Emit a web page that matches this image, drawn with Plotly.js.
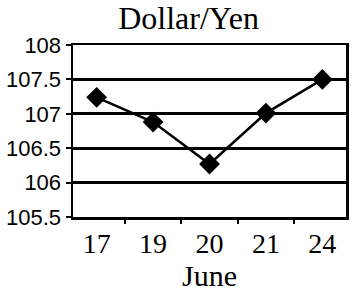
<!DOCTYPE html>
<html>
<head>
<meta charset="utf-8">
<script src="https://cdn.plot.ly/plotly-3.0.1.min.js"></script>
<style>html,body{margin:0;padding:0;background:#fff;}#chart{width:353px;height:293px;}</style>
</head>
<body>
<div id="chart"></div>
<script>
var days = ["17", "19", "20", "21", "24"];
var rates = [107.24, 106.88, 106.27, 107.01, 107.5];
var yTicks = [105.5, 106, 106.5, 107, 107.5, 108];
var yTickText = ["105.5", "106", "106.5", "107", "107.5", "108"];

var serif = "'Liberation Serif', 'Times New Roman', serif";
var narrow = "'Liberation Sans Narrow', 'Arial Narrow', 'Liberation Sans', sans-serif";

Plotly.newPlot("chart", [{
  x: days,
  y: rates,
  type: "scatter",
  mode: "lines+markers",
  line: {color: "#000", width: 2.5},
  marker: {symbol: "diamond", size: 16, color: "#000"},
  hoverinfo: "skip"
}], {
  width: 353,
  height: 293,
  margin: {l: 73, r: 7, t: 45, b: 76},
  paper_bgcolor: "#fff",
  plot_bgcolor: "#fff",
  showlegend: false,
  title: {
    text: "Dollar/Yen",
    font: {family: serif, size: 32, color: "#000"},
    xref: "container", x: 0.534, xanchor: "center",
    yref: "container", y: 0.94, yanchor: "middle"
  },
  xaxis: {
    type: "category",
    tickson: "boundaries",
    ticks: "outside", ticklen: 4, tickwidth: 2, tickcolor: "#000",
    showline: true, linecolor: "#000", linewidth: 2.5, mirror: true,
    showgrid: false, zeroline: false,
    tickfont: {family: serif, size: 28, color: "#000"},
    title: {text: "June", font: {family: serif, size: 30, color: "#000"}, standoff: 6},
    fixedrange: true
  },
  yaxis: {
    range: [105.5, 108],
    tickvals: yTicks,
    ticktext: yTickText,
    ticks: "outside", ticklen: 5, tickwidth: 2, tickcolor: "#000",
    showline: true, linecolor: "#000", linewidth: 2.5, mirror: true,
    showgrid: true, gridcolor: "#000", gridwidth: 3,
    zeroline: false,
    tickfont: {family: narrow, size: 22, color: "#000"},
    fixedrange: true
  }
}, {displayModeBar: false, staticPlot: true});
</script>
</body>
</html>
